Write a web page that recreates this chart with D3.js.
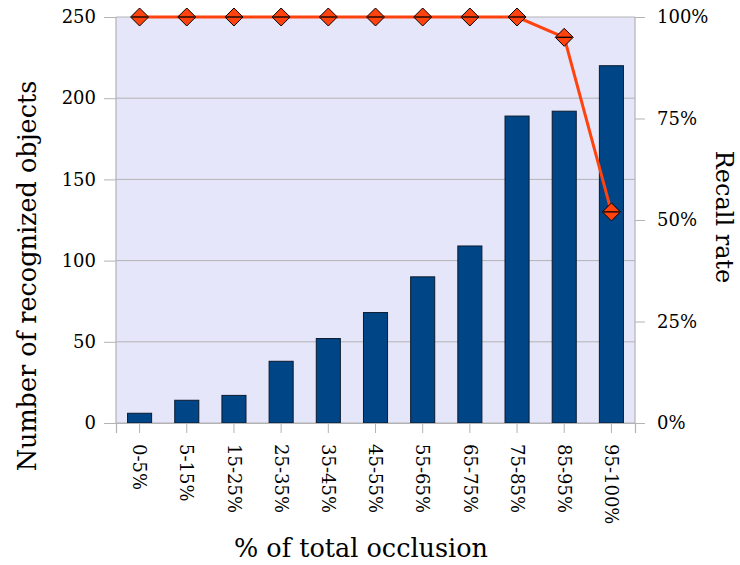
<!DOCTYPE html>
<html>
<head>
<meta charset="utf-8">
<script src="https://cdn.jsdelivr.net/npm/d3@7"></script>
<style>
  html, body { margin: 0; padding: 0; background: #ffffff; }
  svg { display: block; }
  text { font-family: "DejaVu Serif", serif; fill: #000; }
</style>
</head>
<body>
<svg id="chart" width="740" height="565"></svg>
<script>
// Occlusion bins and measurements
const categories = ["0-5%", "5-15%", "15-25%", "25-35%", "35-45%", "45-55%", "55-65%", "65-75%", "75-85%", "85-95%", "95-100%"];
const recognized = [6, 14, 17, 38, 52, 68, 90, 109, 189, 192, 220];
const recall = [1.00, 1.00, 1.00, 1.00, 1.00, 1.00, 1.00, 1.00, 1.00, 0.95, 0.52];
const leftTicks = [0, 50, 100, 150, 200, 250];
const rightTicks = [0, 0.25, 0.5, 0.75, 1.0];

const svg = d3.select("#chart");
const m = { left: 116, right: 635, top: 17, bottom: 423 };

const x = d3.scaleBand().domain(categories).range([m.left, m.right]).paddingInner(0).paddingOuter(0);
const yL = d3.scaleLinear().domain([0, 250]).range([m.bottom, m.top]);
const yR = d3.scaleLinear().domain([0, 1]).range([m.bottom, m.top]);

// Plot background
svg.append("rect")
  .attr("x", m.left).attr("y", m.top)
  .attr("width", m.right - m.left).attr("height", m.bottom - m.top)
  .attr("fill", "#e6e6fa");

// Horizontal grid lines at left-axis ticks
svg.append("g").selectAll("line").data(leftTicks).join("line")
  .attr("x1", m.left).attr("x2", m.right)
  .attr("y1", d => yL(d)).attr("y2", d => yL(d))
  .attr("stroke", "#b3b3b3").attr("stroke-width", 1);

// Plot frame (left, right)
const frame = svg.append("g").attr("stroke", "#b3b3b3").attr("stroke-width", 1.2);
frame.append("line").attr("x1", m.left).attr("x2", m.left).attr("y1", m.top).attr("y2", m.bottom);
frame.append("line").attr("x1", m.right).attr("x2", m.right).attr("y1", m.top).attr("y2", m.bottom);

// Bars
const barW = x.bandwidth() * 0.51;
svg.append("g").selectAll("rect").data(recognized).join("rect")
  .attr("x", (d, i) => x(categories[i]) + (x.bandwidth() - barW) / 2)
  .attr("y", d => yL(d))
  .attr("width", barW)
  .attr("height", d => yL(0) - yL(d))
  .attr("fill", "#004586")
  .attr("stroke", "#0a1a2e")
  .attr("stroke-width", 1);

// Left axis
const axL = svg.append("g").attr("transform", `translate(${m.left},0)`)
  .call(d3.axisLeft(yL).tickValues(leftTicks).tickSize(12).tickPadding(8));
axL.select(".domain").remove();
axL.selectAll(".tick line").attr("stroke", "#b3b3b3");
axL.selectAll(".tick text").style("font-family", "DejaVu Serif, serif").style("font-size", "18px").attr("fill", "#000");

// Right axis
const axR = svg.append("g").attr("transform", `translate(${m.right},0)`)
  .call(d3.axisRight(yR).tickValues(rightTicks).tickFormat(d3.format(".0%")).tickSize(10).tickPadding(12));
axR.select(".domain").remove();
axR.selectAll(".tick line").attr("stroke", "#b3b3b3");
axR.selectAll(".tick text").style("font-family", "DejaVu Serif, serif").style("font-size", "18px").attr("fill", "#000");

// Bottom axis with rotated labels
const axB = svg.append("g").attr("transform", `translate(0,${m.bottom})`)
  .call(d3.axisBottom(x).tickSize(10).tickPadding(0));
axB.select(".domain").attr("stroke", "#b3b3b3").attr("stroke-width", 1.2);
axB.selectAll(".tick line").attr("stroke", "#b3b3b3");
axB.selectAll(".tick text")
  .style("font-family", "DejaVu Serif, serif").style("font-size", "18px").attr("fill", "#000")
  .attr("transform", "translate(0,21) rotate(90)")
  .attr("x", 0).attr("y", 0).attr("dy", "0.35em")
  .attr("text-anchor", "start");

// Recall line
const cx = i => x(categories[i]) + x.bandwidth() / 2;
svg.append("path")
  .datum(recall)
  .attr("fill", "none")
  .attr("stroke", "#ff420e")
  .attr("stroke-width", 3)
  .attr("d", d3.line().x((d, i) => cx(i)).y(d => yR(d)));

// Diamond markers with a centre bar
const s = 9;
const mk = svg.append("g").selectAll("g").data(recall).join("g")
  .attr("transform", (d, i) => `translate(${cx(i)},${yR(d)})`);
mk.append("path")
  .attr("d", `M0,${-s}L${s},0L0,${s}L${-s},0Z`)
  .attr("fill", "#ff420e").attr("stroke", "#000").attr("stroke-width", 1);
mk.append("line")
  .attr("x1", -s + 1).attr("x2", s - 1).attr("y1", 0).attr("y2", 0)
  .attr("stroke", "#000").attr("stroke-width", 1.3);

// Axis titles
svg.append("text")
  .attr("transform", "translate(36,276) rotate(-90)")
  .attr("text-anchor", "middle")
  .style("font-size", "25.5px")
  .text("Number of recognized objects");

svg.append("text")
  .attr("transform", "translate(716,217) rotate(90)")
  .attr("text-anchor", "middle")
  .style("font-size", "24px")
  .text("Recall rate");

svg.append("text")
  .attr("x", 361)
  .attr("y", 557)
  .attr("text-anchor", "middle")
  .style("font-size", "25.5px")
  .text("% of total occlusion");
</script>
</body>
</html>
